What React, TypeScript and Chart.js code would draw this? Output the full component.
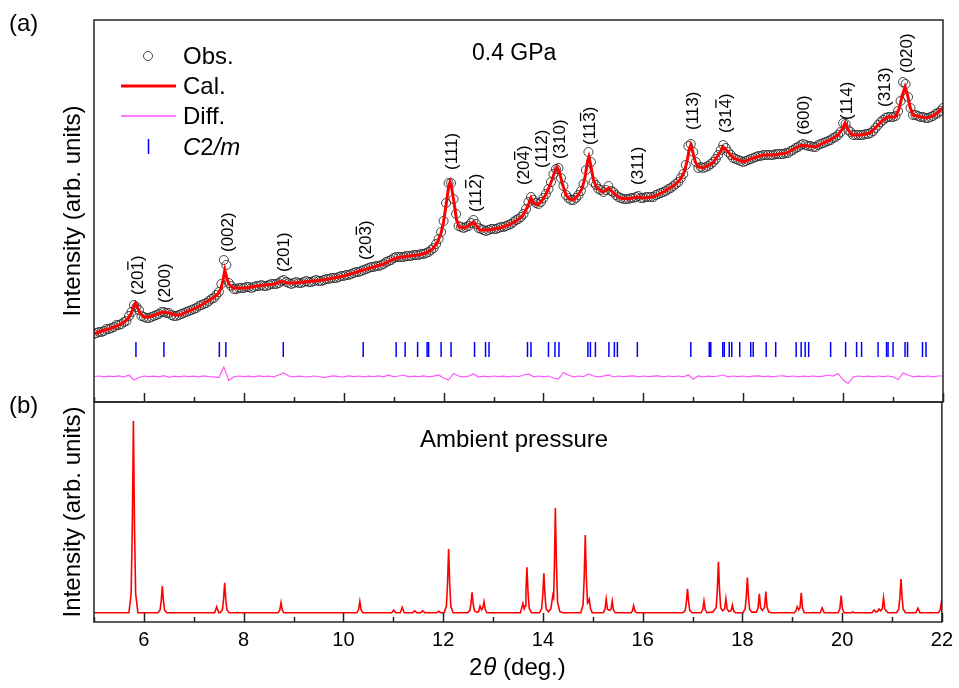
import React, { useEffect, useRef } from 'react';
import { Chart, registerables } from 'chart.js';

Chart.register(...registerables);

const FONT = '"Liberation Sans", Arial, Helvetica, sans-serif';

// ---------- Panel (a): 0.4 GPa refinement ----------
const CALC_X = [
  5.00, 5.15, 5.30, 5.45, 5.58, 5.68, 5.75, 5.80, 5.83, 5.87,
  5.92, 6.00, 6.10, 6.22, 6.32, 6.40, 6.50, 6.62, 6.72, 6.85,
  7.00, 7.12, 7.25, 7.38, 7.48, 7.54, 7.58, 7.62, 7.66, 7.70,
  7.78, 7.90, 8.05, 8.26, 8.45, 8.62, 8.72, 8.78, 8.86, 9.00,
  9.20, 9.40, 9.59, 9.80, 10.00, 10.20, 10.39, 10.60, 10.80, 10.95,
  11.06, 11.30, 11.50, 11.65, 11.78, 11.87, 11.95, 12.00, 12.05, 12.10,
  12.13, 12.16, 12.21, 12.26, 12.31, 12.43, 12.52, 12.59, 12.66, 12.73,
  12.90, 13.13, 13.30, 13.45, 13.58, 13.68, 13.75, 13.81, 13.87, 13.95,
  14.03, 14.10, 14.17, 14.23, 14.27, 14.32, 14.38, 14.45, 14.52, 14.59,
  14.68, 14.77, 14.83, 14.88, 14.91, 14.95, 15.00, 15.07, 15.19, 15.31,
  15.42, 15.53, 15.70, 15.87, 16.00, 16.19, 16.40, 16.60, 16.73, 16.82,
  16.88, 16.92, 16.95, 16.99, 17.04, 17.10, 17.20, 17.39, 17.50, 17.60,
  17.68, 17.80, 18.00, 18.20, 18.40, 18.60, 18.87, 19.05, 19.17, 19.30,
  19.45, 19.60, 19.74, 19.90, 19.98, 20.04, 20.09, 20.18, 20.35, 20.54,
  20.70, 20.80, 20.90, 21.04, 21.12, 21.18, 21.24, 21.29, 21.34, 21.40,
  21.55, 21.68, 21.80, 21.88, 22.00,
];
const CALC_Y = [
  68, 71, 73, 76, 79, 83, 89, 96, 99, 95,
  89, 85, 85, 87, 89, 90, 89, 87, 87, 90,
  93, 96, 100, 104, 108, 113, 121, 132, 124, 118,
  114, 114, 114, 116, 117, 118, 120, 121, 119, 119,
  120, 121, 122, 124, 126, 129, 132, 135, 138, 142,
  144, 146, 147, 149, 153, 159, 169, 180, 197, 215,
  220, 215, 199, 182, 175, 174, 177, 180, 176, 172,
  172, 174, 177, 181, 186, 195, 204, 199, 197, 200,
  206, 213, 222, 231, 235, 230, 218, 207, 203, 202,
  206, 213, 224, 240, 245, 236, 222, 214, 210, 214,
  208, 204, 203, 205, 204, 205, 210, 216, 222, 230,
  242, 253, 257, 250, 240, 235, 234, 239, 247, 255,
  251, 244, 240, 244, 247, 247, 249, 254, 257, 256,
  255, 259, 262, 267, 273, 279, 273, 267, 267, 269,
  277, 282, 285, 285, 293, 306, 315, 307, 295, 287,
  285, 284, 286, 289, 294,
];

// observed points on whole tenths of a degree
const OBS_X = [
  5.0, 5.1, 5.2, 5.3, 5.4, 5.5, 5.6, 5.7, 5.8, 5.9,
  6.0, 6.1, 6.2, 6.3, 6.4, 6.5, 6.6, 6.7, 6.8, 6.9,
  7.0, 7.1, 7.2, 7.3, 7.4, 7.5, 7.6, 7.7, 7.8, 7.9,
  8.0, 8.1, 8.2, 8.3, 8.4, 8.5, 8.6, 8.7, 8.8, 8.9,
  9.0, 9.1, 9.2, 9.3, 9.4, 9.5, 9.6, 9.7, 9.8, 9.9,
  10.0, 10.1, 10.2, 10.3, 10.4, 10.5, 10.6, 10.7, 10.8, 10.9,
  11.0, 11.1, 11.2, 11.3, 11.4, 11.5, 11.6, 11.7, 11.8, 11.9,
  12.0, 12.1, 12.2, 12.3, 12.4, 12.5, 12.6, 12.7, 12.8, 12.9,
  13.0, 13.1, 13.2, 13.3, 13.4, 13.5, 13.6, 13.7, 13.8, 13.9,
  14.0, 14.1, 14.2, 14.3, 14.4, 14.5, 14.6, 14.7, 14.8, 14.9,
  15.0, 15.1, 15.2, 15.3, 15.4, 15.5, 15.6, 15.7, 15.8, 15.9,
  16.0, 16.1, 16.2, 16.3, 16.4, 16.5, 16.6, 16.7, 16.8, 16.9,
  17.0, 17.1, 17.2, 17.3, 17.4, 17.5, 17.6, 17.7, 17.8, 17.9,
  18.0, 18.1, 18.2, 18.3, 18.4, 18.5, 18.6, 18.7, 18.8, 18.9,
  19.0, 19.1, 19.2, 19.3, 19.4, 19.5, 19.6, 19.7, 19.8, 19.9,
  20.0, 20.1, 20.2, 20.3, 20.4, 20.5, 20.6, 20.7, 20.8, 20.9,
  21.0, 21.1, 21.2, 21.3, 21.4, 21.5, 21.6, 21.7, 21.8, 21.9,
  22.0,
];
const OBS_Y = [
  68, 70, 71, 73, 75, 77, 80, 86, 97, 92,
  85, 84, 86, 88, 90, 89, 86, 87, 89, 91,
  93, 96, 98, 101, 104, 110, 142, 119, 113, 114,
  114, 115, 115, 116, 116, 117, 118, 119, 122, 119,
  119, 119, 120, 120, 121, 121, 122, 123, 124, 125,
  126, 127, 129, 130, 132, 134, 135, 136, 138, 141,
  144, 145, 145, 146, 147, 147, 148, 150, 154, 163,
  181, 219, 203, 176, 174, 176, 182, 174, 172, 172,
  173, 174, 175, 177, 180, 183, 188, 200, 202, 198,
  204, 213, 228, 234, 216, 204, 202, 207, 218, 250,
  220, 213, 210, 216, 210, 205, 203, 203, 204, 206,
  204, 205, 205, 208, 210, 213, 216, 220, 228, 256,
  250, 234, 234, 236, 240, 247, 257, 250, 244, 242,
  240, 242, 244, 246, 247, 247, 247, 248, 248, 249,
  252, 255, 258, 256, 255, 257, 259, 261, 264, 267,
  279, 272, 267, 267, 267, 268, 271, 277, 282, 285,
  285, 291, 320, 305, 287, 286, 285, 284, 286, 289,
  294,
];
// observed points half-way between the tenths
const OBS_XM = [
  5.05, 5.15, 5.25, 5.35, 5.45, 5.55, 5.65, 5.75, 5.85, 5.95,
  6.05, 6.15, 6.25, 6.35, 6.45, 6.55, 6.65, 6.75, 6.85, 6.95,
  7.05, 7.15, 7.25, 7.35, 7.45, 7.55, 7.65, 7.75, 7.85, 7.95,
  8.05, 8.15, 8.25, 8.35, 8.45, 8.55, 8.65, 8.75, 8.85, 8.95,
  9.05, 9.15, 9.25, 9.35, 9.45, 9.55, 9.65, 9.75, 9.85, 9.95,
  10.05, 10.15, 10.25, 10.35, 10.45, 10.55, 10.65, 10.75, 10.85, 10.95,
  11.05, 11.15, 11.25, 11.35, 11.45, 11.55, 11.65, 11.75, 11.85, 11.95,
  12.05, 12.15, 12.25, 12.35, 12.45, 12.55, 12.65, 12.75, 12.85, 12.95,
  13.05, 13.15, 13.25, 13.35, 13.45, 13.55, 13.65, 13.75, 13.85, 13.95,
  14.05, 14.15, 14.25, 14.35, 14.45, 14.55, 14.65, 14.75, 14.85, 14.95,
  15.05, 15.15, 15.25, 15.35, 15.45, 15.55, 15.65, 15.75, 15.85, 15.95,
  16.05, 16.15, 16.25, 16.35, 16.45, 16.55, 16.65, 16.75, 16.85, 16.95,
  17.05, 17.15, 17.25, 17.35, 17.45, 17.55, 17.65, 17.75, 17.85, 17.95,
  18.05, 18.15, 18.25, 18.35, 18.45, 18.55, 18.65, 18.75, 18.85, 18.95,
  19.05, 19.15, 19.25, 19.35, 19.45, 19.55, 19.65, 19.75, 19.85, 19.95,
  20.05, 20.15, 20.25, 20.35, 20.45, 20.55, 20.65, 20.75, 20.85, 20.95,
  21.05, 21.15, 21.25, 21.35, 21.45, 21.55, 21.65, 21.75, 21.85, 21.95,
];
const OBS_YM = [
  69, 70, 73, 74, 77, 78, 81, 90, 95, 86,
  84, 85, 87, 90, 89, 87, 86, 88, 90, 92,
  94, 97, 99, 103, 107, 118, 137, 116, 113, 114,
  115, 114, 116, 117, 116, 118, 118, 121, 120, 118,
  120, 119, 121, 120, 122, 121, 123, 124, 124, 126,
  127, 128, 130, 131, 133, 135, 136, 137, 140, 142,
  145, 145, 146, 146, 147, 148, 149, 152, 158, 170,
  199, 219, 188, 175, 175, 179, 178, 173, 171, 173,
  173, 175, 176, 178, 182, 185, 193, 205, 199, 200,
  208, 220, 233, 224, 207, 202, 204, 211, 232, 240,
  217, 212, 212, 211, 207, 204, 203, 204, 205, 204,
  205, 205, 207, 209, 211, 214, 218, 224, 237, 258,
  240, 235, 235, 238, 243, 252, 254, 247, 243, 241,
  241, 243, 245, 246, 247, 247, 248, 248, 249, 251,
  254, 257, 257, 256, 255, 258, 260, 262, 265, 270,
  278, 270, 267, 267, 268, 269, 274, 280, 284, 285,
  286, 301, 318, 294, 287, 285, 284, 285, 288, 291,
];
// difference curve, on the OBS_X grid
const DIFF_Y = [
  25.5, 26, 25.2, 25.8, 25.4, 26.2, 25, 27, 22, 24.5,
  26, 25.3, 25.9, 25.1, 26.3, 24.6, 25.8, 25.2, 26, 25.4,
  25.9, 25.1, 26.1, 25.3, 25.2, 24.4, 35, 21.5, 25.2, 26,
  25.3, 25.9, 25.2, 26.1, 25.4, 25.8, 25.1, 27, 29, 26,
  25.2, 25.8, 25.3, 25.1, 26, 25.5, 24.4, 25.3, 26.1, 25.4,
  25.2, 26.1, 25.3, 26, 25.2, 25.9, 25.4, 26.2, 25.1, 27,
  25.2, 26, 27, 25.1, 25.9, 25.3, 26.1, 25.2, 25.9, 27,
  24, 22, 28.5, 26, 25.2, 25.9, 28, 25, 25.9, 25.2,
  26, 25.3, 25.9, 25.1, 26, 25.3, 27, 28, 25.2, 26,
  25.2, 26, 24, 23, 29.5, 27, 25.2, 26, 25.3, 28,
  26, 25.2, 25.9, 27, 25, 26, 25.3, 25.9, 26.1, 25.2,
  26, 25.3, 25.9, 26.2, 25.1, 26, 25.4, 26, 25.2, 27,
  23, 26, 25.2, 25.9, 25.3, 26, 27, 25.1, 26, 25.3,
  26, 25.2, 25.9, 26.2, 25.3, 25.9, 25.1, 26, 26.2, 25.3,
  26, 25.2, 25.9, 25.4, 26, 25.3, 25.9, 27, 26, 28.5,
  22, 18.5, 25, 26, 25.3, 25.9, 25.2, 26, 25.3, 26,
  25.2, 22.5, 29, 27, 25.2, 25.9, 25.3, 26, 25.2, 26,
  26,
];
// Bragg reflection positions of C2/m
const BRAGG_X = [
  5.84, 6.40, 7.51, 7.64, 8.79, 10.39, 11.05, 11.23, 11.48, 11.67,
  11.70, 11.95, 12.15, 12.62, 12.84, 12.91, 13.68, 13.75, 14.10, 14.23,
  14.31, 14.89, 14.94, 15.04, 15.31, 15.42, 15.48, 15.88, 16.95, 17.32,
  17.35, 17.59, 17.62, 17.72, 17.77, 17.93, 18.15, 18.20, 18.46, 18.65,
  19.06, 19.16, 19.24, 19.31, 19.75, 20.05, 20.27, 20.37, 20.70, 20.87,
  20.90, 21.00, 21.24, 21.29, 21.59, 21.66,
];
const BRAGG_LEVEL = 52.5;

// Miller-index labels (index of the character carrying an overbar, -1 = none)
const HKL_TEXT = ['(201)', '(200)', '(002)', '(201)', '(203)', '(111)', '(112)', '(204)', '(112)', '(310)', '(113)', '(311)', '(113)', '(314)', '(600)', '(114)', '(313)', '(020)'];
const HKL_BAR = [3, -1, -1, -1, 3, -1, 3, 3, -1, -1, 3, -1, -1, 3, -1, -1, -1, -1];
const HKL_X = [5.855, 6.40, 7.66, 8.79, 10.43, 12.14, 12.62, 13.60, 13.96, 14.31, 14.92, 15.88, 16.97, 17.63, 19.19, 20.05, 20.82, 21.25];
const HKL_Y = [107, 99, 150, 130, 142, 232, 190, 217, 234, 243, 257, 217, 272, 269, 267, 282, 295, 329];

// ---------- Panel (b): ambient pressure pattern ----------
const AMBIENT: number[][] = [
  [5.00, 0], [5.70, 0], [5.745, 10], [5.768, 45], [5.79, 100], [5.812, 45], [5.835, 10], [5.88, 0],
  [6.28, 0], [6.325, 1.4], [6.348, 6.3], [6.37, 13.9], [6.392, 6.3], [6.415, 1.4], [6.46, 0],
  [7.42, 0], [7.46, 3.1], [7.50, 0],
  [7.53, 0], [7.575, 1.6], [7.598, 7.0], [7.62, 15.6], [7.642, 7.0], [7.665, 1.6], [7.71, 0],
  [8.69, 0], [8.725, 1.3], [8.75, 5.2], [8.775, 1.3], [8.81, 0],
  [10.27, 0], [10.305, 1.5], [10.33, 5.9], [10.355, 1.5], [10.39, 0],
  [10.97, 0], [11.01, 1.4], [11.05, 0],
  [11.14, 0], [11.18, 2.8], [11.22, 0],
  [11.39, 0], [11.43, 1.0], [11.47, 0],
  [11.55, 0], [11.59, 1.0], [11.63, 0],
  [11.87, 0], [11.91, 0.8], [11.95, 0],
  [12.02, 0], [12.065, 3.3], [12.088, 15], [12.11, 33.2], [12.132, 15], [12.155, 3.3], [12.20, 0],
  [12.49, 0], [12.535, 1.1], [12.558, 4.8], [12.58, 10.6], [12.602, 4.8], [12.625, 1.1], [12.67, 0.3],
  [12.71, 0.5], [12.74, 3.5], [12.77, 1.5], [12.795, 2.5], [12.82, 5.7], [12.845, 1.5], [12.88, 0],
  [13.55, 0], [13.60, 4.9], [13.625, 2.0], [13.645, 3.5], [13.66, 10.7], [13.68, 23.7], [13.702, 10.7], [13.725, 2.4], [13.77, 0],
  [13.93, 0], [13.975, 2.0], [13.998, 9.2], [14.02, 20.5], [14.042, 9.2], [14.065, 2.0], [14.11, 0.5],
  [14.16, 2.0], [14.20, 9.2], [14.215, 8.0], [14.232, 25], [14.25, 54.6], [14.272, 25], [14.295, 5.5], [14.34, 0.5], [14.40, 0],
  [14.76, 0], [14.805, 4.0], [14.828, 18], [14.85, 40.5], [14.872, 18], [14.895, 5.0], [14.91, 5.5], [14.93, 7.0], [14.955, 2.0], [14.99, 0],
  [15.21, 0], [15.245, 1.8], [15.27, 7.1], [15.295, 1.8], [15.33, 1.2], [15.365, 1.8], [15.39, 6.1], [15.415, 1.5], [15.45, 0],
  [15.77, 0], [15.795, 0.9], [15.82, 3.7], [15.845, 0.9], [15.88, 0],
  [16.81, 0], [16.855, 1.2], [16.878, 5.6], [16.90, 12.4], [16.922, 5.6], [16.945, 1.2], [16.99, 0],
  [17.17, 0], [17.205, 1.5], [17.23, 6.1], [17.255, 1.5], [17.29, 0],
  [17.40, 0.3], [17.43, 1.0], [17.475, 2.7], [17.498, 12], [17.52, 26.6], [17.542, 12], [17.565, 2.7], [17.60, 1.0],
  [17.645, 2.0], [17.67, 7.3], [17.695, 1.8], [17.73, 0.6], [17.775, 1.2], [17.80, 4.0], [17.825, 1.0], [17.86, 0],
  [18.01, 0], [18.055, 1.8], [18.078, 8.2], [18.10, 18.3], [18.122, 8.2], [18.145, 1.8], [18.19, 0.3],
  [18.28, 0.3], [18.315, 2.5], [18.34, 9.8], [18.365, 2.5], [18.40, 1.2], [18.445, 2.8], [18.47, 11.0], [18.495, 2.8], [18.53, 0.3], [18.58, 0],
  [19.04, 0], [19.075, 1.0], [19.10, 3.1], [19.13, 1.5], [19.155, 2.6], [19.18, 10.4], [19.205, 2.6], [19.24, 0],
  [19.56, 0], [19.60, 2.5], [19.64, 0],
  [19.92, 0], [19.955, 2.2], [19.98, 8.9], [20.005, 2.2], [20.04, 0],
  [20.18, 0], [20.21, 0.4], [20.24, 0],
  [20.60, 0], [20.64, 1.4], [20.68, 0.3], [20.71, 0.6], [20.74, 2.0], [20.77, 1.0], [20.805, 2.0], [20.83, 7.8], [20.855, 2.0], [20.88, 1.0], [20.92, 0],
  [21.09, 0], [21.135, 1.8], [21.158, 7.9], [21.18, 17.6], [21.202, 7.9], [21.225, 1.8], [21.27, 0],
  [21.48, 0], [21.52, 2.3], [21.56, 0],
  [21.93, 0], [21.965, 1.4], [21.99, 5.4], [22.00, 4.5],
];

const X_MAJOR = [6, 8, 10, 12, 14, 16, 18, 20, 22];
const X_MINOR = [5, 7, 9, 11, 13, 15, 17, 19, 21];

function drawFrame(ctx: any, ca: any) {
  ctx.save();
  ctx.strokeStyle = '#262626';
  ctx.lineWidth = 1.5;
  ctx.strokeRect(ca.left, ca.top, ca.right - ca.left, ca.bottom - ca.top);
  ctx.restore();
}

function drawBottomTicks(ctx: any, ca: any, xs: any) {
  ctx.save();
  ctx.strokeStyle = '#262626';
  ctx.lineWidth = 1.5;
  ctx.beginPath();
  X_MAJOR.forEach((v) => {
    const p = Math.round(xs.getPixelForValue(v)) + 0.5;
    ctx.moveTo(p, ca.bottom);
    ctx.lineTo(p, ca.bottom - 9);
  });
  X_MINOR.forEach((v) => {
    const p = Math.round(xs.getPixelForValue(v)) + 0.5;
    ctx.moveTo(p, ca.bottom);
    ctx.lineTo(p, ca.bottom - 5);
  });
  ctx.stroke();
  ctx.restore();
}

function drawYTitle(ctx: any, cx: number, cy: number) {
  ctx.save();
  ctx.translate(cx, cy);
  ctx.rotate(-Math.PI / 2);
  ctx.font = `24px ${FONT}`;
  ctx.fillStyle = '#000';
  ctx.textAlign = 'center';
  ctx.textBaseline = 'alphabetic';
  ctx.fillText('Intensity (arb. units)', 0, 0);
  ctx.restore();
}

const panelAPlugin = {
  id: 'panelA',
  afterDraw(chart: any) {
    const { ctx, chartArea: ca, scales } = chart;
    const xs = scales.x;
    const ys = scales.y;
    ctx.save();
    // Miller indices
    ctx.fillStyle = '#000';
    ctx.font = `17px ${FONT}`;
    ctx.textAlign = 'left';
    ctx.textBaseline = 'alphabetic';
    for (let i = 0; i < HKL_TEXT.length; i++) {
      const t = HKL_TEXT[i];
      ctx.save();
      ctx.translate(xs.getPixelForValue(HKL_X[i]), ys.getPixelForValue(HKL_Y[i]));
      ctx.rotate(-Math.PI / 2);
      ctx.fillText(t, 0, 6);
      const b = HKL_BAR[i];
      if (b >= 0) {
        const x0 = ctx.measureText(t.slice(0, b)).width;
        const w = ctx.measureText(t.charAt(b)).width;
        ctx.fillRect(x0 + 0.5, -9.5, w - 1, 1.3);
      }
      ctx.restore();
    }
    // legend
    ctx.font = `24px ${FONT}`;
    ctx.strokeStyle = '#444';
    ctx.lineWidth = 1;
    ctx.beginPath();
    ctx.arc(148, 56, 4.5, 0, Math.PI * 2);
    ctx.stroke();
    ctx.strokeStyle = '#ff0000';
    ctx.lineWidth = 3;
    ctx.beginPath();
    ctx.moveTo(121, 86);
    ctx.lineTo(176, 86);
    ctx.stroke();
    ctx.strokeStyle = '#ff55ff';
    ctx.lineWidth = 1.5;
    ctx.beginPath();
    ctx.moveTo(121, 116);
    ctx.lineTo(176, 116);
    ctx.stroke();
    ctx.strokeStyle = '#0000ff';
    ctx.lineWidth = 1.5;
    ctx.beginPath();
    ctx.moveTo(148.5, 139);
    ctx.lineTo(148.5, 154);
    ctx.stroke();
    ctx.fillStyle = '#000';
    ctx.fillText('Obs.', 183, 64);
    ctx.fillText('Cal.', 183, 94);
    ctx.fillText('Diff.', 183, 124);
    let lx = 183;
    ctx.font = `italic 24px ${FONT}`;
    ctx.fillText('C', lx, 155);
    lx += ctx.measureText('C').width;
    ctx.font = `24px ${FONT}`;
    ctx.fillText('2', lx, 155);
    lx += ctx.measureText('2').width;
    ctx.font = `italic 24px ${FONT}`;
    ctx.fillText('/m', lx, 155);
    // annotations
    ctx.font = `23px ${FONT}`;
    ctx.fillText('0.4 GPa', 472, 60);
    ctx.font = `24px ${FONT}`;
    ctx.fillText('(a)', 9, 31);
    ctx.restore();
    drawYTitle(ctx, 80, (ca.top + ca.bottom) / 2);
    drawBottomTicks(ctx, ca, xs);
    drawFrame(ctx, ca);
  },
};

const panelBPlugin = {
  id: 'panelB',
  afterDraw(chart: any) {
    const { ctx, chartArea: ca, scales } = chart;
    const xs = scales.x;
    ctx.save();
    ctx.fillStyle = '#000';
    ctx.textAlign = 'left';
    ctx.textBaseline = 'alphabetic';
    ctx.font = `24px ${FONT}`;
    ctx.fillText('Ambient pressure', 420, 447);
    ctx.fillText('(b)', 9, 413);
    // x title: 2θ (deg.)
    let tx = 469;
    ctx.fillText('2', tx, 675);
    tx += ctx.measureText('2').width + 1;
    ctx.font = `italic 24px ${FONT}`;
    ctx.fillText('\u03b8', tx, 675);
    tx += ctx.measureText('\u03b8').width;
    ctx.font = `24px ${FONT}`;
    ctx.fillText(' (deg.)', tx, 675);
    ctx.restore();
    drawYTitle(ctx, 80, (ca.top + ca.bottom) / 2);
    drawBottomTicks(ctx, ca, xs);
    drawFrame(ctx, ca);
  },
};

export default function App() {
  const refA = useRef<HTMLCanvasElement>(null);
  const refB = useRef<HTMLCanvasElement>(null);

  useEffect(() => {
    const calc = CALC_X.map((x, i) => ({ x, y: CALC_Y[i] }));
    const obs = OBS_X.map((x, i) => ({ x, y: OBS_Y[i] }))
      .concat(OBS_XM.map((x, i) => ({ x, y: OBS_YM[i] })))
      .sort((a, b) => a.x - b.x);
    const diff = OBS_X.map((x, i) => ({ x, y: DIFF_Y[i] }));
    const bragg = BRAGG_X.map((x) => ({ x, y: BRAGG_LEVEL }));
    const amb = AMBIENT.map((p) => ({ x: p[0], y: p[1] }));

    const chartA = new Chart(refA.current as HTMLCanvasElement, {
      type: 'line',
      data: {
        datasets: [
          { label: 'Cal.', data: calc, borderColor: '#ff0000', borderWidth: 3, pointRadius: 0, tension: 0, order: 0 },
          {
            label: 'Obs.', data: obs, showLine: false, pointRadius: 4.5, pointStyle: 'circle',
            pointBorderColor: 'rgba(40,40,40,0.85)', pointBackgroundColor: 'rgba(255,255,255,0)', pointBorderWidth: 1, order: 1,
          },
          { label: 'Diff.', data: diff, borderColor: '#ff55ff', borderWidth: 1.2, pointRadius: 0, tension: 0, order: 2 },
          {
            label: 'C2/m', data: bragg, showLine: false, pointStyle: 'line', pointRotation: 90, pointRadius: 7.5,
            pointBorderColor: '#0000ff', pointBorderWidth: 1.5, order: 3,
          },
        ],
      } as any,
      options: {
        responsive: false,
        maintainAspectRatio: false,
        animation: false,
        devicePixelRatio: 1,
        events: [],
        layout: { padding: { left: 94, top: 20, right: 16, bottom: 286 } },
        plugins: { legend: { display: false }, tooltip: { enabled: false }, title: { display: false } },
        scales: {
          x: { type: 'linear', min: 5, max: 22, display: false },
          y: { type: 'linear', min: 0, max: 382, display: false },
        },
      } as any,
      plugins: [panelAPlugin],
    });

    const chartB = new Chart(refB.current as HTMLCanvasElement, {
      type: 'line',
      data: {
        datasets: [
          { label: 'Ambient pressure', data: amb, borderColor: '#ff0000', borderWidth: 1.6, pointRadius: 0, tension: 0 },
        ],
      } as any,
      options: {
        responsive: false,
        maintainAspectRatio: false,
        animation: false,
        devicePixelRatio: 1,
        events: [],
        layout: { padding: { left: 94, top: 402, right: 16, bottom: 0 } },
        plugins: { legend: { display: false }, tooltip: { enabled: false }, title: { display: false } },
        scales: {
          x: {
            type: 'linear', min: 5, max: 22,
            afterBuildTicks: (s: any) => { s.ticks = X_MAJOR.map((v) => ({ value: v })); },
            afterFit: (s: any) => { s.height = 66; },
            grid: { display: false, drawTicks: false },
            border: { display: false },
            ticks: { color: '#000', font: { family: FONT, size: 20 }, padding: 6, maxRotation: 0, autoSkip: false },
          },
          y: { type: 'linear', min: -4.85, max: 109.9, display: false },
        },
      } as any,
      plugins: [panelBPlugin],
    });

    return () => {
      chartA.destroy();
      chartB.destroy();
    };
  }, []);

  return (
    <div style={{ position: 'fixed', left: 0, top: 0, width: 959, height: 688, background: '#fff' }}>
      <canvas ref={refA} width={959} height={688} style={{ position: 'absolute', left: 0, top: 0 }} />
      <canvas ref={refB} width={959} height={688} style={{ position: 'absolute', left: 0, top: 0 }} />
    </div>
  );
}
